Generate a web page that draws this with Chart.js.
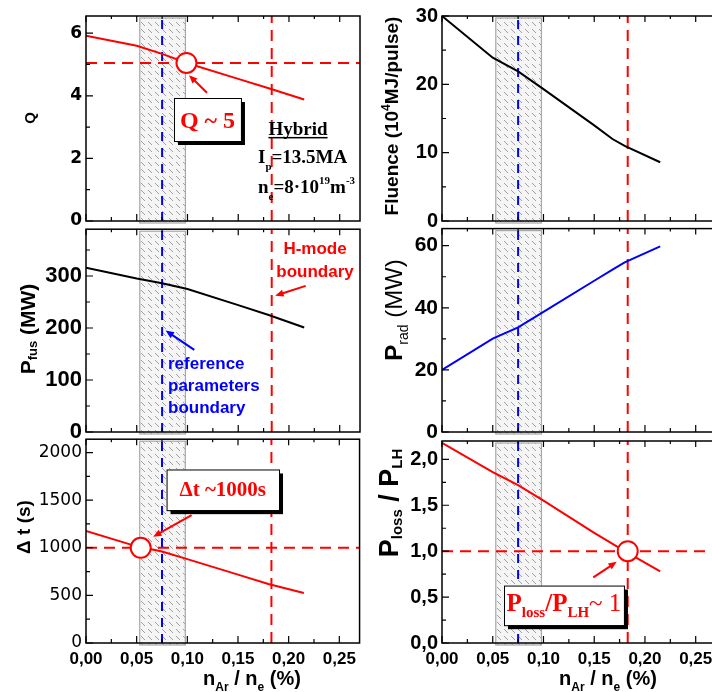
<!DOCTYPE html>
<html>
<head>
<meta charset="utf-8">
<script src="https://cdn.jsdelivr.net/npm/chart.js@4.4.0/dist/chart.umd.min.js"></script>
<style>
  html, body { margin: 0; padding: 0; background: #fff; }
  body { width: 712px; height: 692px; position: relative; overflow: hidden; }
  canvas { position: absolute; }
</style>
</head>
<body>
<canvas id="cQ"></canvas>
<canvas id="cPfus"></canvas>
<canvas id="cDt"></canvas>
<canvas id="cFluence"></canvas>
<canvas id="cPrad"></canvas>
<canvas id="cPloss"></canvas>
<script>
// n_Ar / n_e (%) sample points
const nArA = [0, 0.05, 0.075, 0.10, 0.15, 0.18, 0.215];
const nArB = [0, 0.05, 0.075, 0.10, 0.15, 0.168, 0.18, 0.215];

const qVals = [5.92, 5.60, 5.34, 5.04, 4.54, 4.24, 3.88];
const pfusVals = [316, 295, 286, 275, 244, 225, 201];
const dtVals = [1177, 1015, 961, 881, 718, 620, 526];
const fluenceVals = [30, 23.9, 21.9, 19.3, 14.0, 12.0, 11.0, 8.6];
const pradVals = [20, 30.1, 33.7, 38.7, 48.7, 52.3, 54.6, 59.8];
const plossVals = [2.18, 1.86, 1.72, 1.55, 1.20, 1.00, 0.78];

// tick labels
const xTicks = [0, 0.05, 0.10, 0.15, 0.20, 0.25];
const qTicks = [0, 2, 4, 6];
const pfusTicks = [0, 100, 200, 300];
const dtTicks = [0, 500, 1000, 1500, 2000];
const fluenceTicks = [0, 10, 20, 30];
const pradTicks = [0, 20, 40, 60];
const plossTicks = [0, 0.5, 1.0, 1.5, 2.0];

// reference markers
const bandRange = [0.053, 0.098];   // hatched band
const refParamX = 0.075;            // reference parameters boundary
const hModeX = 0.183;               // H-mode boundary
const qTarget = 5.05;
const dtTarget = 1000;
const plossTarget = 1.0;

const XMAX = 0.27;
const RED = '#ff0000';
const BLUE = '#0000ff';
const SANS = '"Liberation Sans", Arial, sans-serif';
const SERIF = '"Liberation Serif", "Times New Roman", serif';
const DEJA = '"DejaVu Sans", sans-serif';

const hatch = (() => {
  const c = document.createElement('canvas');
  c.width = 7; c.height = 7;
  const g = c.getContext('2d');
  g.strokeStyle = '#a0a0a0';
  g.lineWidth = 1;
  g.beginPath(); g.moveTo(1, 1); g.lineTo(5, 5); g.stroke();
  return c;
})();

function pts(xs, ys) {
  return xs.map((x, i) => ({ x: x, y: ys[i] }));
}

function rich(ctx, parts, x, y, align) {
  let w = 0;
  parts.forEach(p => { ctx.font = p[1]; w += ctx.measureText(p[0]).width; });
  let cx = align === 'center' ? x - w / 2 : x;
  ctx.textAlign = 'left';
  ctx.textBaseline = 'alphabetic';
  parts.forEach(p => {
    ctx.font = p[1];
    ctx.fillText(p[0], cx, y + (p[2] || 0));
    cx += ctx.measureText(p[0]).width;
  });
  return w;
}

function richRot(ctx, parts, bx, cy) {
  ctx.save();
  ctx.translate(bx, cy);
  ctx.rotate(-Math.PI / 2);
  rich(ctx, parts, 0, 0, 'center');
  ctx.restore();
}

function arrow(ctx, x1, y1, x2, y2, color) {
  const a = Math.atan2(y2 - y1, x2 - x1);
  const hl = 9;
  ctx.save();
  ctx.strokeStyle = color; ctx.fillStyle = color; ctx.lineWidth = 2;
  ctx.beginPath();
  ctx.moveTo(x1, y1);
  ctx.lineTo(x2 - hl * 0.7 * Math.cos(a), y2 - hl * 0.7 * Math.sin(a));
  ctx.stroke();
  ctx.beginPath();
  ctx.moveTo(x2, y2);
  ctx.lineTo(x2 - hl * Math.cos(a - 0.4), y2 - hl * Math.sin(a - 0.4));
  ctx.lineTo(x2 - hl * Math.cos(a + 0.4), y2 - hl * Math.sin(a + 0.4));
  ctx.closePath();
  ctx.fill();
  ctx.restore();
}

function callout(ctx, x0, y0, x1, y1, parts, baseOff) {
  ctx.save();
  ctx.fillStyle = '#000';
  ctx.fillRect(x0 + 4, y0 + 4, x1 - x0, y1 - y0);
  ctx.fillStyle = '#fff';
  ctx.fillRect(x0, y0, x1 - x0, y1 - y0);
  ctx.strokeStyle = '#000'; ctx.lineWidth = 1;
  ctx.strokeRect(x0 + 0.5, y0 + 0.5, x1 - x0, y1 - y0);
  ctx.fillStyle = RED;
  rich(ctx, parts, (x0 + x1) / 2, y0 + baseOff, 'center');
  ctx.restore();
}

function refLine(xs, ys, color, dash) {
  return { data: pts(xs, ys), borderColor: color, borderWidth: 2, borderDash: dash, pointRadius: 0 };
}

function drawQ(ctx, X, Y) {
  callout(ctx, X(0.0867), Y(3.93), X(0.1527), Y(2.556), [['Q ~ 5', 'bold 24px ' + SERIF]], 30);
  arrow(ctx, X(0.1192), Y(4.10), X(0.1015), Y(4.66), RED);
  ctx.save();
  ctx.fillStyle = '#000';
  const w = rich(ctx, [['Hybrid', 'bold 19px ' + SERIF]], X(0.2089), Y(2.75), 'center');
  ctx.fillRect(X(0.2089) - w / 2, Y(2.75) + 2, w, 1.5);
  const F = 'bold 19px ' + SERIF, S = 'bold 11px ' + SERIF;
  rich(ctx, [['I', F], ['p', S, 7], ['=13.5MA', F]], X(0.1695), Y(1.85), 'left');
  rich(ctx, [['n', F], ['e', S, 7], ['=8\u00b710', F], ['19', S, -9], ['m', F], ['-3', S, -9]], X(0.1695), Y(0.895), 'left');
  ctx.restore();
}

function drawPfus(ctx, X, Y) {
  ctx.save();
  ctx.fillStyle = RED;
  const F = 'bold 17px ' + SANS;
  rich(ctx, [['H-mode', F]], X(0.2257), Y(342), 'center');
  rich(ctx, [['boundary', F]], X(0.2257), Y(298), 'center');
  arrow(ctx, X(0.2165), Y(281), X(0.1865), Y(262), RED);
  ctx.fillStyle = BLUE;
  rich(ctx, [['reference', F]], X(0.0808), Y(120.4), 'left');
  rich(ctx, [['parameters', F]], X(0.0808), Y(78.4), 'left');
  rich(ctx, [['boundary', F]], X(0.0808), Y(36.3), 'left');
  arrow(ctx, X(0.1067), Y(158), X(0.0785), Y(195), BLUE);
  ctx.restore();
}

function drawDt(ctx, X, Y) {
  callout(ctx, X(0.0795), Y(1822), X(0.1905), Y(1395), [['\u0394t ~1000s', 'bold 21px ' + SERIF]], 27);
  arrow(ctx, X(0.1042), Y(1343), X(0.0663), Y(1115), RED);
}

function drawPloss(ctx, X, Y) {
  const B = 'bold 25px ' + SERIF, S = 'bold 15px ' + SERIF;
  callout(ctx, X(0.0611), Y(0.6255), X(0.1793), Y(0.194),
    [['P', B], ['loss', S, 6], ['/P', B], ['LH', S, 6], ['~ 1', '25px ' + SERIF]], 25);
  arrow(ctx, X(0.1491), Y(0.715), X(0.1722), Y(0.884), RED);
}

const PANELS = [
  { id: 'cQ', left: 0, top: 0, w: 362, h: 240, pad: [16, 19, 2], xLabels: false,
    xs: nArA, ys: qVals, color: RED, yMax: 6.55, yTicks: qTicks,
    yFmt: v => String(v), yFont: { family: DEJA, size: 17, weight: 'bold' },
    hline: qTarget, circle: [0.099, qTarget],
    title: { parts: [['Q', 'bold 15px ' + SANS]], dx: 51, cy: 118 }, extra: drawQ },
  { id: 'cPfus', left: 0, top: 212, w: 362, h: 238, pad: [16, 18, 2], xLabels: false,
    xs: nArA, ys: pfusVals, color: '#000', yMax: 390, yTicks: pfusTicks,
    yFmt: v => String(v), yFont: { family: SANS, size: 22, weight: 'bold' },
    title: { parts: [['P', 'bold 21px ' + SANS], ['fus', 'bold 13px ' + SANS, 2], [' (MW)', 'bold 21px ' + SANS]], dx: 51, cy: 329 },
    extra: drawPfus },
  { id: 'cDt', left: 0, top: 425, w: 362, h: 267, pad: [14, 0, 2], xLabels: true,
    xs: nArA, ys: dtVals, color: RED, yMax: 2140, yTicks: dtTicks,
    yFmt: v => String(v), yFont: { family: DEJA, size: 17, weight: 'normal' },
    hline: dtTarget, circle: [0.054, dtTarget],
    title: { parts: [['\u0394 t (s)', 'bold 19px ' + SANS]], dx: 56, cy: 527 }, extra: drawDt },
  { id: 'cFluence', left: 356, top: 0, w: 364, h: 240, pad: [16, 19, 4], xLabels: false,
    xs: nArB, ys: fluenceVals, color: '#000', yMax: 30, yTicks: fluenceTicks,
    yFmt: v => String(v), yFont: { family: SANS, size: 20, weight: 'bold' },
    title: { parts: [['Fluence (10', 'bold 19px ' + SANS], ['4', 'bold 12px ' + SANS, -8], ['MJ/pulse)', 'bold 19px ' + SANS]], dx: 44, cy: 116 } },
  { id: 'cPrad', left: 356, top: 212, w: 364, h: 238, pad: [16, 18, 4], xLabels: false,
    xs: nArB, ys: pradVals, color: BLUE, yMax: 65.5, yTicks: pradTicks,
    yFmt: v => String(v), yFont: { family: SANS, size: 21, weight: 'bold' },
    title: { parts: [['P', 'bold 24px ' + SANS], ['rad', '14px ' + SANS, 6], [' (MW)', '24px ' + SANS]], dx: 40, cy: 310 } },
  { id: 'cPloss', left: 356, top: 425, w: 364, h: 267, pad: [14, 0, 4], xLabels: true,
    xs: nArA, ys: plossVals, color: RED, yMax: 2.2, yTicks: plossTicks,
    yFmt: v => v.toFixed(1).replace('.', ','), yFont: { family: SANS, size: 20, weight: 'bold' },
    hline: plossTarget, circle: [hModeX, plossTarget],
    title: { parts: [['P', 'bold 27px ' + SANS], ['loss', 'bold 15px ' + SANS, 4], [' / ', 'bold 27px ' + SANS], ['P', 'bold 27px ' + SANS], ['LH', 'bold 15px ' + SANS, 4]], dx: 44, cy: 503 },
    extra: drawPloss }
];

function minors(majors, max) {
  const step = majors[1] - majors[0];
  const out = [];
  majors.forEach(v => { if (v + step / 2 <= max) out.push(v + step / 2); });
  return out;
}

function decor(p) {
  return {
    id: 'decor',
    beforeDatasetsDraw(chart) {
      const { ctx, chartArea: a, scales: { x } } = chart;
      const x0 = x.getPixelForValue(bandRange[0]), x1 = x.getPixelForValue(bandRange[1]);
      ctx.save();
      ctx.fillStyle = '#f5f5f5';
      ctx.fillRect(x0, a.top + 2, x1 - x0, a.bottom - a.top);
      ctx.fillStyle = ctx.createPattern(hatch, 'repeat');
      ctx.fillRect(x0, a.top + 2, x1 - x0, a.bottom - a.top);
      ctx.strokeStyle = '#a8a8a8'; ctx.lineWidth = 1.2;
      ctx.strokeRect(x0, a.top + 2, x1 - x0, a.bottom - a.top);
      ctx.restore();
    },
    afterDraw(chart) {
      const { ctx, chartArea: a, scales: { x, y } } = chart;
      const X = v => x.getPixelForValue(v), Y = v => y.getPixelForValue(v);
      ctx.save();
      ctx.strokeStyle = '#000'; ctx.lineWidth = 1.5;
      ctx.strokeRect(a.left, a.top, a.right - a.left, a.bottom - a.top);
      ctx.lineWidth = 1.2;
      ctx.beginPath();
      xTicks.forEach(v => { const px = X(v); ctx.moveTo(px, a.bottom); ctx.lineTo(px, a.bottom - 7); ctx.moveTo(px, a.top); ctx.lineTo(px, a.top + 6); });
      minors(xTicks, XMAX).forEach(v => { const px = X(v); ctx.moveTo(px, a.bottom); ctx.lineTo(px, a.bottom - 4); ctx.moveTo(px, a.top); ctx.lineTo(px, a.top + 3); });
      p.yTicks.forEach(v => { const py = Y(v); ctx.moveTo(a.left, py); ctx.lineTo(a.left + 7, py); });
      minors(p.yTicks, p.yMax).forEach(v => { const py = Y(v); ctx.moveTo(a.left, py); ctx.lineTo(a.left + 4, py); });
      ctx.stroke();
      ctx.fillStyle = '#000';
      richRot(ctx, p.title.parts, a.left - p.title.dx, p.title.cy - p.top);
      if (p.xLabels) {
        const B = 'bold 20px ' + SANS, S = 'bold 12px ' + SANS;
        rich(ctx, [['n', B], ['Ar', S, 6], [' / n', B], ['e', S, 6], [' (%)', B]], a.left + 166, 685 - p.top, 'center');
      }
      if (p.extra) p.extra(ctx, X, Y);
      ctx.restore();
    }
  };
}

PANELS.forEach(p => {
  const cv = document.getElementById(p.id);
  cv.width = p.w; cv.height = p.h;
  cv.style.left = p.left + 'px'; cv.style.top = p.top + 'px';

  const datasets = [];
  if (p.circle) {
    datasets.push({ data: [{ x: p.circle[0], y: p.circle[1] }], showLine: false, pointRadius: 10,
      pointBorderWidth: 2, pointBorderColor: RED, pointBackgroundColor: '#fff' });
  }
  datasets.push({ data: pts(p.xs, p.ys), borderColor: p.color, borderWidth: 2, pointRadius: 0, tension: 0 });
  if (p.hline != null) datasets.push(refLine([0, XMAX], [p.hline, p.hline], RED, [11, 7]));
  datasets.push(refLine([hModeX, hModeX], [0, p.yMax], RED, [11, 7]));
  datasets.push(refLine([refParamX, refParamX], [0, p.yMax], BLUE, [9, 7]));

  new Chart(cv, {
    type: 'line',
    data: { datasets: datasets },
    options: {
      responsive: false,
      animation: false,
      events: [],
      layout: { autoPadding: false, padding: { top: p.pad[0], bottom: p.pad[1], left: 0, right: p.pad[2] } },
      plugins: { legend: { display: false }, tooltip: { enabled: false } },
      scales: {
        x: {
          type: 'linear', min: 0, max: XMAX,
          grid: { display: false, drawTicks: false }, border: { display: false },
          afterBuildTicks: s => { s.ticks = xTicks.map(v => ({ value: v })); },
          afterFit: s => { s.height = p.xLabels ? 49 : 0; },
          ticks: {
            display: p.xLabels, autoSkip: false, maxRotation: 0, padding: 6, color: '#000',
            font: { family: SANS, size: 17, weight: 'bold' },
            callback: v => v.toFixed(2).replace('.', ',')
          }
        },
        y: {
          type: 'linear', min: 0, max: p.yMax,
          grid: { display: false, drawTicks: false }, border: { display: false },
          afterBuildTicks: s => { s.ticks = p.yTicks.map(v => ({ value: v })); },
          afterFit: s => { s.width = 86; },
          ticks: { autoSkip: false, padding: 4, color: '#000', font: p.yFont, callback: p.yFmt }
        }
      }
    },
    plugins: [decor(p)]
  });
});
</script>
</body>
</html>
